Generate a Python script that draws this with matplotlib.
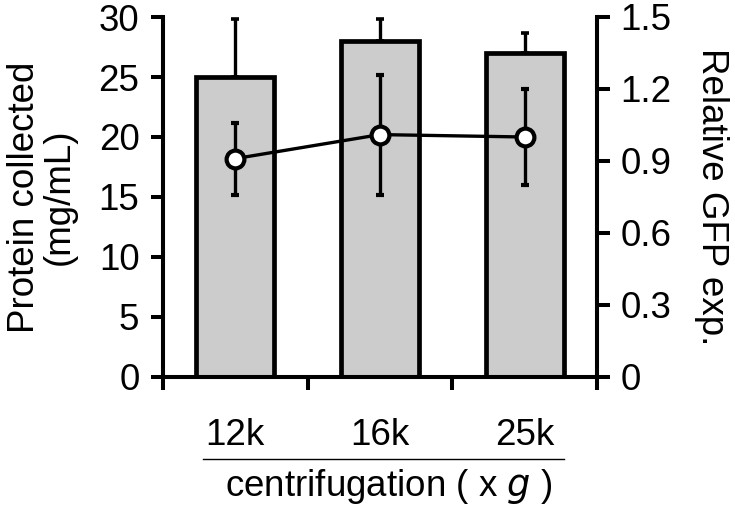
import matplotlib
matplotlib.use("Agg")
import matplotlib.pyplot as plt
from matplotlib.lines import Line2D
import matplotlib.transforms as mtransforms
import numpy as np

categories = ["12k", "16k", "25k"]
protein = [25, 28, 27]
protein_err = [4.8, 1.8, 1.7]
gfp = [0.91, 1.01, 1.00]
gfp_err = [0.15, 0.25, 0.20]

plt.rcParams['font.family'] = ['Liberation Sans', 'DejaVu Sans']

FS = 26.5
W, H = 735, 507
fig = plt.figure(figsize=(7.35, 5.07), dpi=100)
ax = fig.add_axes([163/W, 1-377/H, (597-163)/W, (377-17)/H])
x = np.arange(len(categories))

lw = 3.4
slw = 2.9
ax.bar(x, protein, width=0.54, color="#cccccc", edgecolor="black", linewidth=lw, zorder=2)
ax.errorbar(x, protein, yerr=[np.zeros(3), protein_err], fmt="none", ecolor="black",
            elinewidth=2.4, capsize=2.6, capthick=2.6, zorder=1)
ax.set_xlim(-0.5, 2.5)
ax.set_ylim(0, 30)
ax.set_yticks(np.arange(0, 31, 5))
ax.set_xticks([-0.5, 0.5, 1.5, 2.5])
ax.set_xticklabels([])
ax.tick_params(axis="x", which="major", length=9.5, width=slw, direction="out")
ax.tick_params(axis="y", length=9, width=slw, labelsize=FS, pad=8)
for s in ["left", "bottom", "right"]:
    ax.spines[s].set_linewidth(slw)
ax.spines["top"].set_visible(False)

# category labels below the axis
trans = mtransforms.blended_transform_factory(ax.transData, ax.transAxes)
for xi, c in zip(x, categories):
    ax.text(xi, -(445-377)/360, c, transform=trans, ha="center", va="baseline", fontsize=FS)

ax2 = ax.twinx()
ax2.set_ylim(0, 1.5)
ax2.set_yticks([0, 0.3, 0.6, 0.9, 1.2, 1.5])
ax2.set_yticklabels(["0", "0.3", "0.6", "0.9", "1.2", "1.5"])
ax2.tick_params(axis="y", length=9, width=slw, labelsize=FS, pad=8)
for s in ["left", "bottom", "right"]:
    ax2.spines[s].set_linewidth(slw)
ax2.spines["top"].set_visible(False)
ax2.errorbar(x, gfp, yerr=gfp_err, fmt="-o", color="black", linewidth=2.4,
             elinewidth=2.4, capsize=3.2, capthick=2.6, markersize=12.8,
             markerfacecolor="white", markeredgecolor="black", markeredgewidth=3.0, zorder=5)

# axis titles
fig.text(42/W, 1-197/H, "Protein collected\n(mg/mL)", fontsize=FS, rotation=90,
         ha="center", va="center", multialignment="center", linespacing=1.0)
fig.text(712/W, 1-197/H, "Relative GFP exp.", fontsize=FS, rotation=-90,
         ha="center", va="center")

# line under category labels and axis title
ax.add_line(Line2D([(203-163)/434, (564-163)/434], [-(459-377)/360]*2,
                   transform=ax.transAxes, color="black", linewidth=1.0, clip_on=False))
fig.text(389/W, 1-496/H, "centrifugation ( x $\\mathit{g}$ )", fontsize=FS,
         ha="center", va="baseline")

fig.savefig("out.png", dpi=100)
